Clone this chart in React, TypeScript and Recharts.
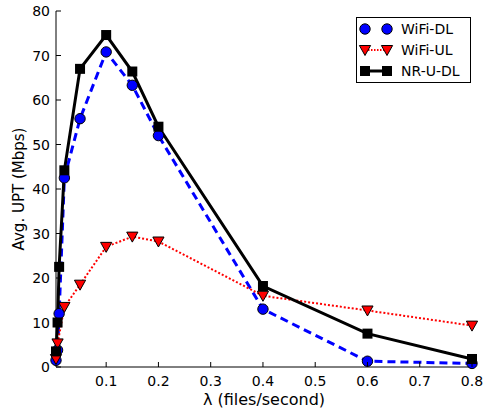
import React from 'react';
import { LineChart, Line, XAxis, YAxis } from 'recharts';

const LAMBDA = [0.004, 0.007, 0.01, 0.02, 0.05, 0.1, 0.15, 0.2, 0.4, 0.6, 0.8];
const WIFI_DL = [1.5, 3.8, 12, 42.5, 55.8, 70.8, 63.3, 52, 13, 1.3, 0.8];
const WIFI_UL = [1.8, 5.3, null, 13.5, 18.5, 27, 29.3, 28.2, 16, 12.7, 9.3];
const NRU_DL = [3.5, 10, 22.5, 44.2, 67, 74.6, 66.4, 54, 18.2, 7.5, 1.8];
const X_TICKS = [0.1, 0.2, 0.3, 0.4, 0.5, 0.6, 0.7, 0.8];
const Y_TICKS = [0, 10, 20, 30, 40, 50, 60, 70, 80];
const SERIES = ['WiFi-DL', 'WiFi-UL', 'NR-U-DL'];

const data = LAMBDA.map((x, i) => ({ x, dl: WIFI_DL[i], ul: WIFI_UL[i], nr: NRU_DL[i] }));

const W = 484;
const H = 408;
const PL = 56;
const PR = 472;
const PT = 11;
const PB = 367;
const FONT = 'DejaVu Sans';

const Marker = ({ kind, cx, cy }: any) => {
  if (cx == null || cy == null) return <g />;
  if (kind === 'dl') return <circle cx={cx} cy={cy} r={5.2} fill="#0000ff" stroke="#000" strokeWidth={1} />;
  if (kind === 'ul')
    return (
      <polygon
        points={`${cx - 5.6},${cy - 4.5} ${cx + 5.6},${cy - 4.5} ${cx},${cy + 5.5}`}
        fill="#ff0000"
        stroke="#000"
        strokeWidth={1}
      />
    );
  return <rect x={cx - 5} y={cy - 5} width={10} height={10} fill="#000" />;
};

const dotFor = (kind: string) => (p: any) => <Marker key={`${kind}-${p.index}`} kind={kind} cx={p.cx} cy={p.cy} />;

const BottomTick = ({ x, payload }: any) => (
  <g>
    <line x1={x} x2={x} y1={PB} y2={PB - 5} stroke="#000" />
    <text x={x} y={PB + 19} textAnchor="middle" fontSize={14} fontFamily={FONT} fill="#000">
      {payload.value.toFixed(1)}
    </text>
  </g>
);
const TopTick = ({ x }: any) => <line x1={x} x2={x} y1={PT} y2={PT + 5} stroke="#000" />;
const LeftTick = ({ y, payload }: any) => (
  <g>
    <line x1={PL} x2={PL + 5} y1={y} y2={y} stroke="#000" />
    <text x={PL - 6} y={y + 5} textAnchor="end" fontSize={14} fontFamily={FONT} fill="#000">
      {payload.value}
    </text>
  </g>
);
const RightTick = ({ y }: any) => <line x1={PR} x2={PR - 5} y1={y} y2={y} stroke="#000" />;

const LegendBox = () => (
  <div
    style={{
      position: 'absolute',
      left: 356,
      top: 17,
      width: 113,
      height: 64,
      border: '1px solid #000',
      background: '#fff',
      fontFamily: FONT,
      fontSize: 14,
    }}
  >
    {SERIES.map((name, i) => {
      const kind = ['dl', 'ul', 'nr'][i];
      const cy = 11 + i * 21;
      return (
        <div key={name} style={{ position: 'absolute', left: 0, top: cy - 11, height: 22, width: 113 }}>
          <svg width={40} height={22} style={{ position: 'absolute', left: 0, top: 0 }}>
            {kind === 'ul' && <line x1={8} x2={30} y1={11} y2={11} stroke="#ff0000" strokeWidth={2} strokeDasharray="1.5 1.5" />}
            {kind === 'nr' && <line x1={8} x2={30} y1={11} y2={11} stroke="#000" strokeWidth={3} />}
            <Marker kind={kind} cx={8} cy={11} />
            <Marker kind={kind} cx={30} cy={11} />
          </svg>
          <span style={{ position: 'absolute', left: 44, top: 2, lineHeight: '18px', color: '#000' }}>{name}</span>
        </div>
      );
    })}
  </div>
);

export default function App() {
  return (
    <div style={{ position: 'absolute', left: 0, top: 0, width: W, height: H, background: '#fff' }}>
      <LineChart width={W} height={H} data={data} margin={{ top: PT, right: W - PR, bottom: 0, left: 0 }}>
        <XAxis
          dataKey="x"
          type="number"
          domain={[0.004, 0.8]}
          ticks={X_TICKS}
          interval={0}
          height={H - PB}
          tickLine={false}
          axisLine={{ stroke: '#000' }}
          tick={<BottomTick />}
          label={{ value: 'λ (files/second)', position: 'insideBottom', offset: 3, fontSize: 16, fontFamily: FONT, fill: '#000' }}
        />
        <XAxis
          xAxisId="top"
          orientation="top"
          dataKey="x"
          type="number"
          domain={[0.004, 0.8]}
          ticks={X_TICKS}
          interval={0}
          height={0}
          tickLine={false}
          axisLine={{ stroke: '#000' }}
          tick={<TopTick />}
        />
        <YAxis
          type="number"
          domain={[0, 80]}
          ticks={Y_TICKS}
          interval={0}
          width={PL}
          tickLine={false}
          axisLine={{ stroke: '#000' }}
          tick={<LeftTick />}
          label={{ value: 'Avg. UPT (Mbps)', angle: -90, position: 'insideLeft', offset: 19, fontSize: 15, fontFamily: FONT, fill: '#000', style: { textAnchor: 'middle' } }}
        />
        <YAxis
          yAxisId="right"
          orientation="right"
          type="number"
          domain={[0, 80]}
          ticks={Y_TICKS}
          interval={0}
          width={0}
          tickLine={false}
          axisLine={{ stroke: '#000' }}
          tick={<RightTick />}
        />
        <Line
          dataKey="dl"
          stroke="#0000ff"
          strokeWidth={3}
          strokeDasharray="8 5"
          dot={dotFor('dl')}
          isAnimationActive={false}
        />
        <Line
          dataKey="ul"
          stroke="#ff0000"
          strokeWidth={2}
          strokeDasharray="2 2"
          connectNulls
          dot={dotFor('ul')}
          isAnimationActive={false}
        />
        <Line dataKey="nr" stroke="#000" strokeWidth={3} dot={dotFor('nr')} isAnimationActive={false} />
      </LineChart>
      <LegendBox />
    </div>
  );
}
